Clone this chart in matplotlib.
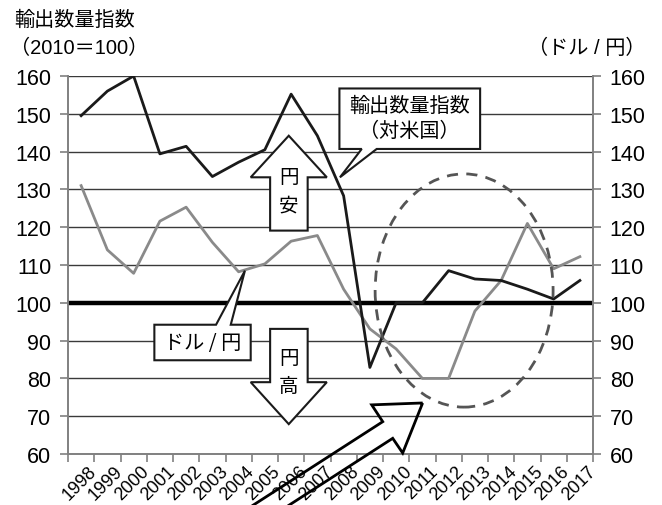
import matplotlib
matplotlib.use("Agg")
import matplotlib.pyplot as plt
import matplotlib.transforms as mtransforms
from matplotlib.patches import Polygon, Ellipse

plt.rcParams['font.family'] = ['Liberation Sans', 'Noto Sans CJK JP', 'DejaVu Sans']

# 年
years = [str(y) for y in range(1998, 2018)]
# 輸出数量指数（対米国、2010=100）
export_index = [149.5, 156.0, 160.0, 139.4, 141.4, 133.4, 137.2, 140.5, 155.2, 144.2,
                128.3, 82.9, 100.0, 100.0, 108.5, 106.3, 105.9, 103.6, 101.0, 105.9]
# ドル/円レート
usd_jpy = [131.0, 114.0, 107.8, 121.6, 125.3, 116.0, 108.2, 110.3, 116.3, 117.8,
           103.6, 93.1, 87.8, 80.0, 80.0, 97.8, 105.9, 121.0, 109.0, 112.2]
yticks = list(range(60, 161, 10))

JP = 'Noto Sans CJK JP'
GRAY = '#808080'

fig = plt.figure(figsize=(6.62, 5.06), dpi=100)
ax = fig.add_axes([68 / 662, 1 - 455 / 506, 525 / 662, 378 / 506])

x = list(range(len(years)))
ax.set_xlim(-0.5, len(years) - 0.5)
ax.set_ylim(60, 160)

# 目盛線と基準線(100)
for v in yticks:
    ax.axhline(v, color='#3a3a3a', lw=1.0, zorder=1)
ax.axhline(100, color='black', lw=3.2, zorder=2)

ax.plot(x, usd_jpy, color='#8a8a8a', lw=2.0, zorder=3)
ax.plot(x, export_index, color='#1a1a1a', lw=2.0, zorder=4)

# 軸
ax.spines['top'].set_visible(False)
for side in ['left', 'right', 'bottom']:
    ax.spines[side].set_color(GRAY)
    ax.spines[side].set_linewidth(1.4)

ax.set_yticks(yticks)
ax.tick_params(axis='y', which='both', left=True, right=True, labelleft=True, labelright=True,
               direction='out', length=6, width=1.2, color=GRAY, labelsize=15.5, pad=6)

ax.set_xticks([i - 0.5 for i in range(len(years) + 1)])
ax.set_xticklabels([])
ax.set_xticks(x, minor=True)
ax.set_xticklabels(years, minor=True, rotation=45, ha='right', va='top',
                   rotation_mode='anchor', fontsize=13)
ax.tick_params(axis='x', which='major', direction='out', length=6, width=1.2, color=GRAY)
ax.tick_params(axis='x', which='minor', length=0, pad=6)
shift = mtransforms.ScaledTranslation(0.07, 0, fig.dpi_scale_trans)
for lbl in ax.get_xticklabels(minor=True):
    lbl.set_transform(lbl.get_transform() + shift)

# 見出し
fig.text(14 / 662, 1 - 20 / 506, '輸出数量指数', family=JP, fontsize=14.5, va='center', ha='left')
fig.text(10 / 662, 1 - 48 / 506, '（2010＝100）', fontsize=14.5, va='center', ha='left',
         family=['Liberation Sans', JP])
fig.text(645 / 662, 1 - 48 / 506, '（ドル / 円）', fontsize=14.5, va='center', ha='right',
         family=['Liberation Sans', JP])

# 円安・円高の矢印
up = [(7.91, 144.2), (9.36, 133.2), (8.63, 133.2), (8.63, 119.1),
      (7.20, 119.1), (7.20, 133.2), (6.46, 133.2)]
ax.add_patch(Polygon(up, closed=True, facecolor='white', edgecolor='#1a1a1a', lw=1.5, zorder=6))
ax.text(7.91, 133.4, '円', family=JP, fontsize=14, ha='center', va='center', zorder=7)
ax.text(7.91, 126.0, '安', family=JP, fontsize=14, ha='center', va='center', zorder=7)

down = [(7.20, 93.1), (8.63, 93.1), (8.63, 79.0), (9.36, 79.0),
        (7.91, 67.9), (6.46, 79.0), (7.20, 79.0)]
ax.add_patch(Polygon(down, closed=True, facecolor='white', edgecolor='#1a1a1a', lw=1.5, zorder=6))
ax.text(7.91, 85.6, '円', family=JP, fontsize=14, ha='center', va='center', zorder=7)
ax.text(7.91, 78.1, '高', family=JP, fontsize=14, ha='center', va='center', zorder=7)

# 吹き出し
box1 = [(9.84, 156.7), (15.2, 156.7), (15.2, 140.7), (11.26, 140.7),
        (9.86, 133.2), (10.69, 140.7), (9.84, 140.7)]
ax.add_patch(Polygon(box1, closed=True, facecolor='white', edgecolor='#1a1a1a', lw=1.5, zorder=6))
ax.text(12.52, 152.1, '輸出数量指数', family=JP, fontsize=14.5, ha='center', va='center', zorder=7)
ax.text(12.52, 145.5, '（対米国）', family=JP, fontsize=14.5, ha='center', va='center', zorder=7)

box2 = [(2.79, 94.2), (5.14, 94.2), (6.24, 108.5), (5.70, 94.2),
        (6.46, 94.2), (6.46, 84.8), (2.79, 84.8)]
ax.add_patch(Polygon(box2, closed=True, facecolor='white', edgecolor='#1a1a1a', lw=1.5, zorder=6))
ax.text(4.62, 89.5, 'ドル / 円', family=JP, fontsize=14.5, ha='center', va='center', zorder=7)

# 円高期を囲む破線
ax.add_patch(Ellipse((14.59, 103.25), 6.78, 61.7, fill=False, edgecolor='#555555',
                     lw=2.0, ls=(0, (4, 3)), zorder=5))

# 右上向きの白抜き矢印
big = [(13.01, 73.5), (11.07, 73.0), (11.49, 68.55), (4.55, 37.5),
       (5.92, 37.5), (11.87, 64.15), (12.25, 60.26)]
ax.add_patch(Polygon(big, closed=True, fill=False, edgecolor='black', lw=2.0,
                     zorder=8, clip_on=False))

fig.savefig('out.png', dpi=100)
